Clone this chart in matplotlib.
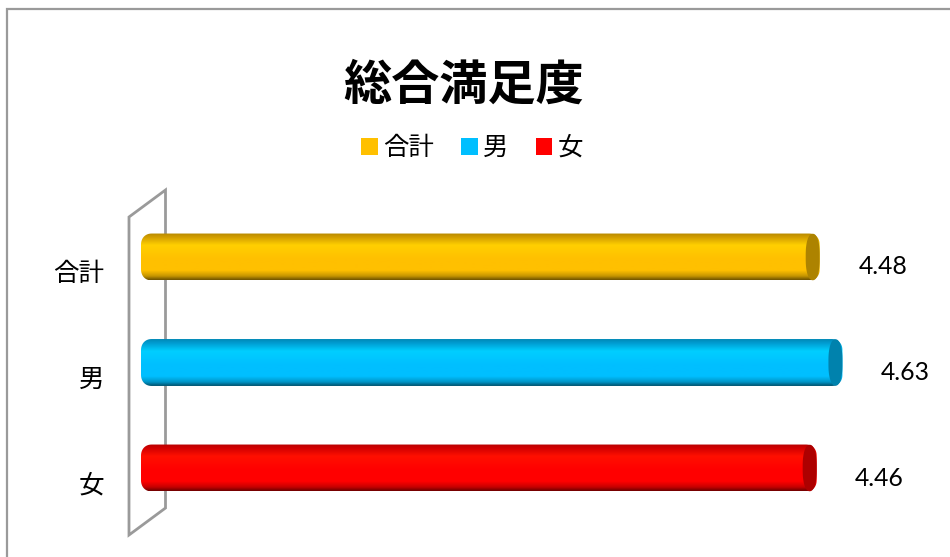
import matplotlib
matplotlib.use('Agg')
import matplotlib.pyplot as plt
import numpy as np
from matplotlib.colors import LinearSegmentedColormap, to_rgb
from matplotlib.patches import Patch, PathPatch, Polygon
from matplotlib.path import Path

plt.rcParams['font.family'] = ['Noto Sans CJK JP', 'DejaVu Sans']

categories = ['合計', '男', '女']
values = [4.48, 4.63, 4.46]
colors = ['#ffc000', '#00bfff', '#ff0000']
chart_title = '総合満足度'

W, H = 950, 557
BAR_HEIGHT = 0.445
GRAY = '#9a9a9a'


def shade_cmap(color):
    """Vertical shading of a cylinder, dark rim top and bottom."""
    base = np.array(to_rgb(color))
    highlight = np.clip(base + np.array([0, 0.06, 0]), 0, 1)
    stops = [
        (0.0, base * 0.72),
        (0.08, base * 0.82),
        (0.25, highlight),
        (0.55, base),
        (0.80, base),
        (0.92, base * 0.78),
        (1.0, base * 0.45),
    ]
    return LinearSegmentedColormap.from_list('shade', [(p, tuple(c)) for p, c in stops])


def rounded_outline(x0, x1, yc, half_h, rx, ry):
    """Closed outline of a bar with superelliptic corners, in data units."""
    t = np.linspace(0, np.pi / 2, 24)
    cx, cy = np.cos(t) ** 0.9, np.sin(t) ** 0.9
    top, bot = yc - half_h, yc + half_h
    left_top = np.column_stack([x0 + rx - rx * cx, top + ry - ry * cy])
    right_top = np.column_stack([x1 - rx + rx * cx[::-1], top + ry - ry * cy[::-1]])
    right_bot = np.column_stack([x1 - rx + rx * cx, bot - ry + ry * cy])
    left_bot = np.column_stack([x0 + rx - rx * cx[::-1], bot - ry + ry * cy[::-1]])
    return np.vstack([left_top, right_top, right_bot, left_bot, left_top[:1]])


fig = plt.figure(figsize=(W / 100, H / 100), dpi=100, facecolor='white')

# pixel-space layer for the chart frame and the 3D back wall
bg = fig.add_axes([0, 0, 1, 1])
bg.set_xlim(0, W)
bg.set_ylim(H, 0)
bg.axis('off')
bg.plot([7, 7, W], [H, 9, 9], color=GRAY, lw=1.6, solid_joinstyle='miter')
bg.add_patch(Polygon([(129, 217), (165.5, 190), (165.5, 508), (129, 535)], closed=True,
                     fill=False, edgecolor=GRAY, lw=2))

# data axes: x=0 sits at the bar root, rows are 105.5 px apart
ax = fig.add_axes([141 / W, 1 - 520.75 / H, (W - 141) / W, 316.5 / H])
ax.patch.set_alpha(0)
ax.axis('off')
xmax = (W - 141) / 151.5
cap_rx = 7 / 151.5
corner_rx = 11 / 151.5
corner_ry = 0.11

for i, (label, value, color) in enumerate(zip(categories, values, colors)):
    half_h = BAR_HEIGHT / 2
    outline = rounded_outline(0, value, i, half_h, corner_rx, corner_ry)
    clip = PathPatch(Path(outline), transform=ax.transData, fc='none', ec='none')
    ax.add_patch(clip)
    grad = np.linspace(0, 1, 64).reshape(-1, 1)
    img = ax.imshow(grad, cmap=shade_cmap(color), aspect='auto', interpolation='bilinear',
                    extent=(0, value, i + half_h, i - half_h), zorder=2)
    img.set_clip_path(clip)

    # end cap of the cylinder
    cap = rounded_outline(value - 2 * cap_rx, value, i, half_h * 0.99, cap_rx, 0.20)
    ax.add_patch(PathPatch(Path(cap), fc=np.array(to_rgb(color)) * 0.68, ec='none', zorder=3))

    ax.annotate(label, xy=(0, i), xytext=(-37, -17), textcoords='offset pixels',
                ha='right', va='center', fontsize=18.4, color='black')
    ax.annotate(f'{value:.2f}', xy=(value, i), xytext=(63, -10), textcoords='offset pixels',
                ha='center', va='center', fontsize=17.8, color='black', family=['Lato', 'DejaVu Sans'])

ax.set_xlim(0, xmax)
ax.set_ylim(2.5, -0.5)

fig.text(464 / W, 1 - 85 / H, chart_title, ha='center', va='center', fontsize=34.7,
         fontweight='bold', color='black')

handles = [Patch(facecolor=c, edgecolor='none', label=l) for c, l in zip(colors, categories)]
fig.legend(handles=handles, loc='center', bbox_to_anchor=(472 / W, 1 - 148 / H), ncol=3, frameon=False,
           fontsize=18.3, handlelength=0.65, handleheight=0.65, handletextpad=0.2, columnspacing=1.08,
           borderpad=0, labelspacing=0)

fig.savefig('out.png', dpi=100)
